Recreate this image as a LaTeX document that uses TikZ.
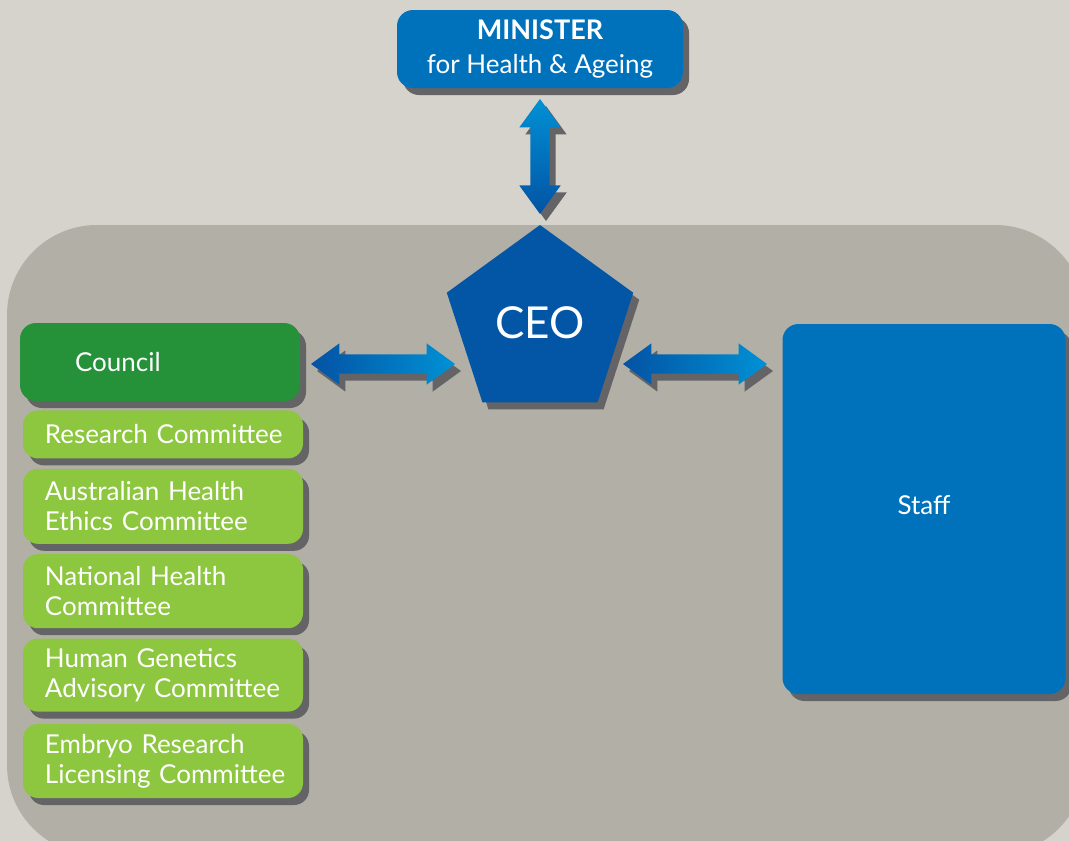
\documentclass[tikz,border=0pt]{standalone}
\usepackage{fontspec}
\setmainfont{Lato}
\usetikzlibrary{calc,positioning,shapes.geometric,shapes.arrows,shadows}
\hyphenpenalty=10000
\exhyphenpenalty=10000

\definecolor{backgrey}{HTML}{D6D3CC}
\definecolor{panelgrey}{HTML}{B2AFA7}
\definecolor{shadowgrey}{HTML}{646466}
\definecolor{boxblue}{HTML}{0072BB}
\definecolor{ceoblue}{HTML}{0356A6}
\definecolor{councilgreen}{HTML}{259139}
\definecolor{committeegreen}{HTML}{8DC63F}
\definecolor{arrowlight}{HTML}{0091D5}
\definecolor{arrowdark}{HTML}{0353A4}

\begin{document}
\begin{tikzpicture}[x=1pt,y=-1pt]
    \tikzset{box shadow/.style={drop shadow={shadow xshift=6pt,shadow yshift=-7pt,fill=shadowgrey,opacity=1}},
      blue box/.style={rectangle,rounded corners=16pt,fill=boxblue,text=white,inner sep=0pt,box shadow},
      committee/.style={rectangle,rounded corners=15pt,fill=committeegreen,text=white,minimum width=280pt,inner xsep=22pt,inner ysep=0pt,text width=236pt,align=left,box shadow,font=\fontsize{26}{30}\selectfont},
      link/.style={double arrow,double arrow head extend=11pt,double arrow tip angle=72,inner sep=9.5pt,minimum width=41pt,box shadow}}
    % background and panel
    \useasboundingbox (0,0) rectangle (1069,841);
    \fill[backgrey] (0,0) rectangle (1069,841);
    \fill[panelgrey,rounded corners=90pt] (7,225) rectangle (1085,855);
    % top of the chart
    \node [blue box,minimum width=286pt,minimum height=78pt,align=center,font=\fontsize{26}{34}\selectfont]   (minister) at (540,49)  {{\fontsize{27}{34}\selectfont\textbf{MINISTER}}\\for Health \& Ageing};
    \node [regular polygon,regular polygon sides=5,minimum size=196pt,inner sep=0pt,fill=ceoblue,text=white,font=\fontsize{44}{44}\selectfont,box shadow]   (ceo) at (540,323)  {CEO};
    \node [blue box,minimum width=283pt,minimum height=370pt,font=\fontsize{26}{30}\selectfont]   (staff) at (924,509)  {\raisebox{9pt}{Staff}};
    % council and committees
    \node [rectangle,rounded corners=16pt,fill=councilgreen,text=white,minimum width=280pt,minimum height=78pt,inner xsep=55pt,text width=170pt,align=left,box shadow,font=\fontsize{26}{30}\selectfont]   (council) at (160,362)  {Council};
    \node [committee,minimum height=48pt,below=9pt of council,xshift=3pt]   (research)  {Research~Committee};
    \node [committee,minimum height=75pt,below=10pt of research]   (ahec)  {Australian~Health\\Ethics~Committee};
    \node [committee,minimum height=74pt,below=10pt of ahec]   (nhc)  {National~Health\\Committee};
    \node [committee,minimum height=73pt,below=10pt of nhc]   (hgac)  {Human~Genetics\\Advisory~Committee};
    \node [committee,minimum height=74pt,below=12pt of hgac]   (erlc)  {Embryo~Research\\Licensing~Committee};
    % arrows
    \node [link,shape border rotate=90,minimum height=115pt,top color=arrowlight,bottom color=arrowdark]   (upline) at ($(minister.south)!0.5!(ceo.north)$)  {};
    \node [link,minimum height=144pt,left color=arrowdark,right color=arrowlight]   (leftline) at (383,364)  {};
    \node [link,minimum height=144pt,left color=arrowdark,right color=arrowlight]   (rightline) at (695,364)  {};
\end{tikzpicture}
\end{document}
